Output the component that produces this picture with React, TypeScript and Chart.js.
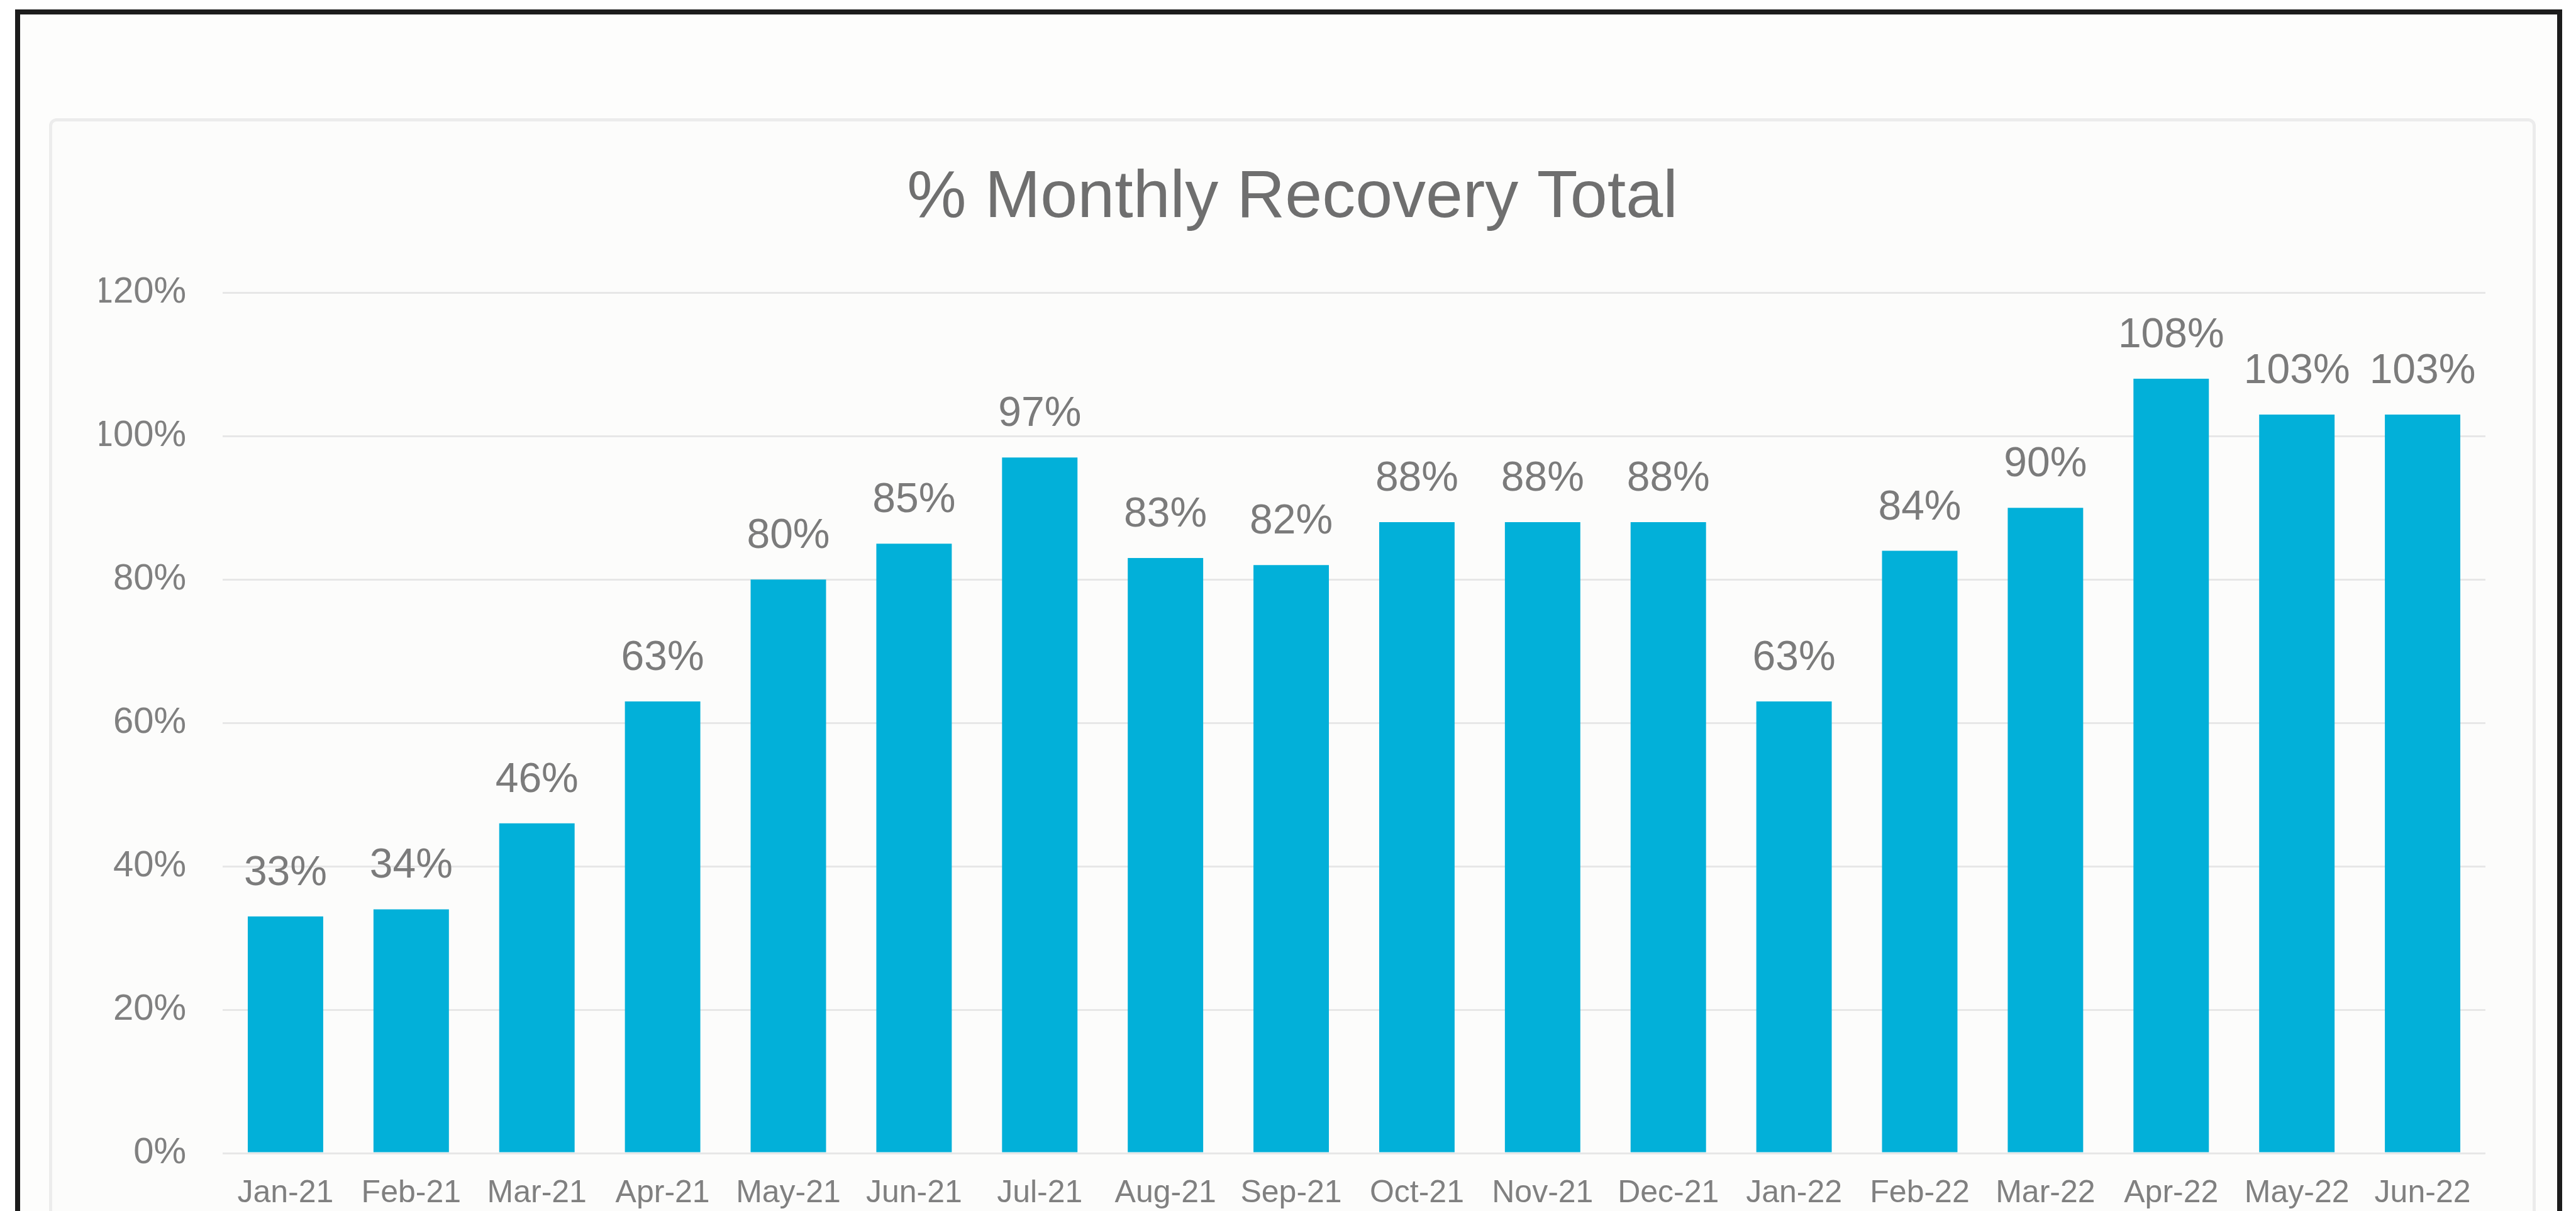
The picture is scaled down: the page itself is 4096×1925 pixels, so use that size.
import React, { useEffect, useRef } from "react";
import { Chart, registerables } from "chart.js";

Chart.register(...registerables);

const categories: string[] = [
  "Jan-21", "Feb-21", "Mar-21", "Apr-21", "May-21", "Jun-21",
  "Jul-21", "Aug-21", "Sep-21", "Oct-21", "Nov-21", "Dec-21",
  "Jan-22", "Feb-22", "Mar-22", "Apr-22", "May-22", "Jun-22",
];

const recoveryPct: number[] = [
  33, 34, 46, 63, 80, 85, 97, 83, 82, 88, 88, 88, 63, 84, 90, 108, 103, 103,
];

const yTickValues: number[] = [0, 20, 40, 60, 80, 100, 120];

const titleText = "% Monthly Recovery Total";

const W = 4096;
const H = 1925;
const CANVAS_H = 1961;
const FONT = '"Liberation Sans", Arial, Helvetica, sans-serif';

const dataLabelPlugin = {
  id: "barValueLabels",
  afterDatasetsDraw(chart: any) {
    const ctx = chart.ctx;
    const meta = chart.getDatasetMeta(0);
    const values = chart.data.datasets[0].data as number[];
    ctx.save();
    ctx.font = `66px ${FONT}`;
    ctx.fillStyle = "#7b7b7b";
    ctx.textAlign = "center";
    ctx.textBaseline = "alphabetic";
    meta.data.forEach((bar: any, i: number) => {
      ctx.fillText(`${values[i]}%`, bar.x, bar.y - 50);
    });
    ctx.restore();
  },
};

export default function App() {
  const canvasRef = useRef<HTMLCanvasElement | null>(null);

  useEffect(() => {
    const canvas = canvasRef.current;
    if (!canvas) return;
    Chart.defaults.font.family = FONT;
    const chart = new Chart(canvas, {
      type: "bar",
      data: {
        labels: categories,
        datasets: [
          {
            label: "% Monthly Recovery",
            data: recoveryPct,
            backgroundColor: "#02B0D9",
            borderWidth: 0,
            barPercentage: 0.6,
            categoryPercentage: 1,
          },
        ],
      },
      options: {
        animation: false,
        responsive: false,
        devicePixelRatio: 1,
        layout: { padding: { top: 252, left: 158, right: 144, bottom: 0 } },
        plugins: {
          legend: { display: false },
          tooltip: { enabled: false },
          title: {
            display: true,
            text: titleText,
            color: "#6f6f6f",
            font: { size: 106, weight: "normal", family: FONT },
            padding: { top: 0, bottom: 86 },
          },
        },
        scales: {
          x: {
            grid: { display: false, drawTicks: false },
            border: { display: false },
            ticks: {
              color: "#808080",
              font: { size: 50, family: FONT },
              padding: 34,
              autoSkip: false,
              maxRotation: 0,
              minRotation: 0,
            },
          },
          y: {
            min: 0,
            max: 120,
            afterBuildTicks: (scale: any) => {
              scale.ticks = yTickValues.map((v) => ({ value: v }));
            },
            afterFit: (scale: any) => {
              scale.width = 196;
            },
            grid: { color: "#e7e7e7", lineWidth: 3, drawTicks: false },
            border: { display: false },
            ticks: {
              color: "#808080",
              font: { size: 58, family: FONT },
              padding: 58,
              callback: (v: any) => `${v}%`,
            },
          },
        },
      },
      plugins: [dataLabelPlugin],
    });
    return () => chart.destroy();
  }, []);

  return (
    <div
      style={{
        position: "absolute",
        left: 0,
        top: 0,
        width: W,
        height: H,
        overflow: "hidden",
        background: "#ffffff",
      }}
    >
      <div
        style={{
          position: "absolute",
          left: 24,
          top: 15,
          width: 4074 - 24,
          height: 2100,
          boxSizing: "border-box",
          border: "8px solid #1c1c1c",
          background: "#fdfdfc",
        }}
      />
      <div
        style={{
          position: "absolute",
          left: 78,
          top: 188,
          width: 4032 - 78,
          height: 2100,
          boxSizing: "border-box",
          border: "5px solid #ececec",
          borderRadius: 12,
          background: "#fcfcfb",
        }}
      />
      <canvas
        ref={canvasRef}
        width={W}
        height={CANVAS_H}
        style={{ position: "absolute", left: 0, top: 0, width: W, height: CANVAS_H }}
      />
    </div>
  );
}
